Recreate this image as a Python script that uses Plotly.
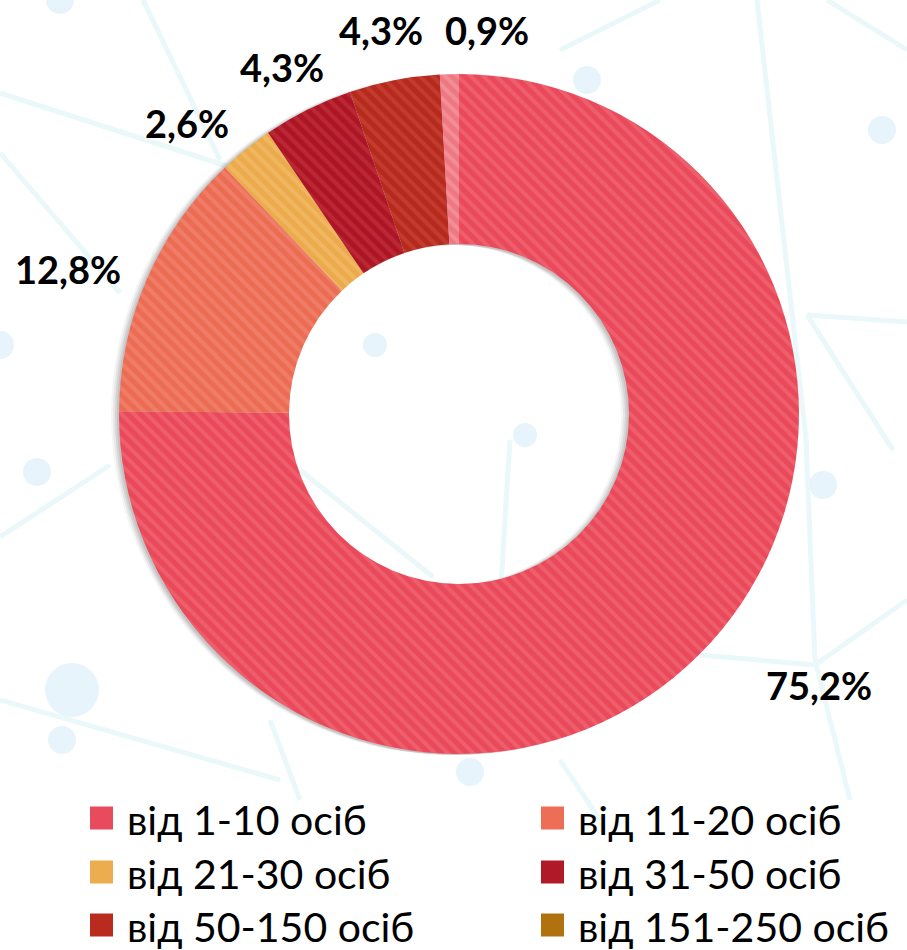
import plotly.graph_objects as go

# ---- data ----
categories = ["від 1-10 осіб", "від 11-20 осіб", "від 21-30 осіб",
              "від 31-50 осіб", "від 50-150 осіб", "від 151-250 осіб"]
values = [75.2, 12.8, 2.6, 4.3, 4.3, 0.9]
value_labels = ["75,2%", "12,8%", "2,6%", "4,3%", "4,3%", "0,9%"]

# ---- styles ----
slice_colors = ["#E9495A", "#EC6C53", "#EBAA4C", "#AD1525", "#B52A1C", "#EE7882"]
stripe_colors = ["#EE5E6B", "#F07D67", "#F0B760", "#BA2835", "#C23B2E", "#F38D96"]
legend_colors = ["#E84C5C", "#EC6E56", "#EBAD50", "#AE1A28", "#B82B1E", "#B0720F"]

W, H = 907, 950
CX, CY, R = 459, 414, 340
HOLE = 0.5

# label positions in pixels (text centres)
label_pos = [(819, 685), (68, 269), (187, 123), (282, 67), (381, 30), (487, 30)]
# legend layout
legend_cols = [90, 541]
legend_rows = [818, 872, 925]
SW = 23

# faint decorative background network (pixels)
bg_lines = [
    (560, 50, 660, 0), (757, 0, 807, 447), (827, 0, 907, 50), (807, 315, 907, 322),
    (807, 315, 893, 450), (0, 93, 230, 167), (0, 153, 120, 293), (143, 0, 220, 160),
    (0, 537, 110, 465), (0, 700, 280, 780), (300, 470, 433, 577), (510, 440, 500, 600),
    (806, 440, 815, 660), (815, 660, 850, 800), (700, 655, 815, 665), (815, 665, 907, 600),
    (560, 760, 600, 820), (270, 720, 300, 800), (650, 400, 760, 315),
]
bg_dots = [(587, 80, 14), (882, 130, 14), (37, 472, 14), (72, 690, 27), (62, 740, 14),
           (823, 485, 14), (470, 772, 14), (375, 345, 12), (525, 435, 12), (0, 345, 14),
           (60, 0, 14)]


def px_x(x):
    return x / W


def px_y(y):
    return 1 - y / H


def dom(cx, cy, r):
    return dict(x=[px_x(cx - r), px_x(cx + r)], y=[px_y(cy + r), px_y(cy - r)])


fig = go.Figure()

# soft shadow (stacked translucent rings shifted left)
for off, op in [(8, 0.04), (6, 0.06), (4, 0.08), (2, 0.08)]:
    fig.add_trace(go.Pie(
        values=[1], labels=["s"], hole=HOLE, sort=False,
        domain=dom(CX - off, CY + 1, R),
        marker=dict(colors=[f"rgba(0,0,0,{op})"], line=dict(width=0)),
        textinfo="none", hoverinfo="skip", showlegend=False,
    ))

fig.add_trace(go.Pie(
    labels=categories, values=values, hole=HOLE, sort=False,
    direction="clockwise", rotation=0,
    domain=dom(CX, CY, R),
    marker=dict(colors=slice_colors, line=dict(width=0),
                pattern=dict(shape="\\", fgcolor=stripe_colors, bgcolor=slice_colors,
                             size=9, solidity=0.45)),
    textinfo="none", showlegend=False,
))

annotations = []
for (x, y), t in zip(label_pos, value_labels):
    annotations.append(dict(
        x=px_x(x), y=px_y(y), xref="paper", yref="paper", text=f"<b>{t}</b>",
        showarrow=False, xanchor="center", yanchor="middle",
        font=dict(family="Lato", size=38, color="#000000")))

shapes = []
for x0, y0, x1, y1 in bg_lines:
    shapes.append(dict(type="line", xref="paper", yref="paper", layer="below",
                       x0=px_x(x0), y0=px_y(y0), x1=px_x(x1), y1=px_y(y1),
                       line=dict(color="#EAF8FA", width=5)))
for x, y, r in bg_dots:
    shapes.append(dict(type="circle", xref="paper", yref="paper", layer="below",
                       x0=px_x(x - r), x1=px_x(x + r), y0=px_y(y + r), y1=px_y(y - r),
                       fillcolor="#E8F4FB", line=dict(width=0)))

for i, (name, col) in enumerate(zip(categories, legend_colors)):
    cx = legend_cols[i % 2]
    cy = legend_rows[i // 2]
    shapes.append(dict(type="rect", xref="paper", yref="paper",
                       x0=px_x(cx), x1=px_x(cx + SW),
                       y0=px_y(cy + SW / 2), y1=px_y(cy - SW / 2),
                       fillcolor=col, line=dict(width=0)))
    annotations.append(dict(
        x=px_x(cx + SW + 12), y=px_y(cy + 1), xref="paper", yref="paper",
        text=name, showarrow=False, xanchor="left", yanchor="middle",
        font=dict(family="Lato", size=41, color="#000000")))

fig.update_layout(
    width=W, height=H,
    margin=dict(l=0, r=0, t=0, b=0),
    paper_bgcolor="rgba(0,0,0,0)", plot_bgcolor="rgba(0,0,0,0)",
    annotations=annotations, shapes=shapes,
    showlegend=False,
)

fig.write_html("out.html", config={"displayModeBar": False},
               post_script="document.body.style.margin='0';document.body.style.background='#FFFFFF';")
